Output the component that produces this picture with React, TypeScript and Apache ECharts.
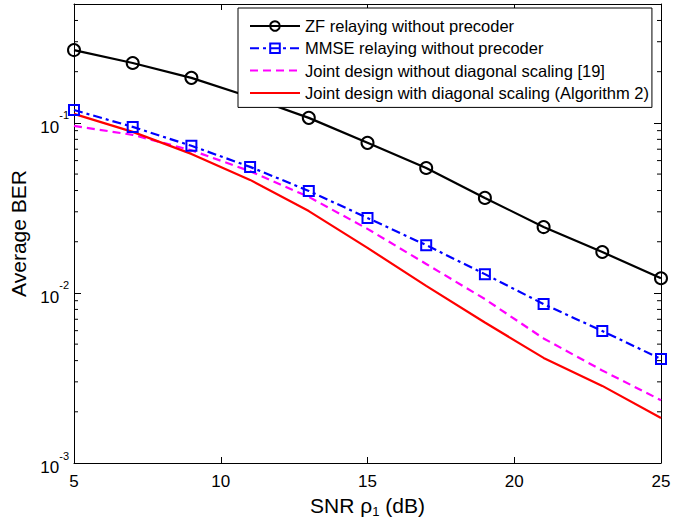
import React, { useEffect, useRef } from "react";
import * as echarts from "echarts";

const snr = [5, 7, 9, 11, 13, 15, 17, 19, 21, 23, 25];
const zfBer = [0.268, 0.225, 0.184, 0.142, 0.107, 0.0763, 0.0543, 0.0362, 0.0244, 0.0174, 0.0122];
const mmseBer = [0.119, 0.0947, 0.0733, 0.0551, 0.0398, 0.0276, 0.0191, 0.0129, 0.0086, 0.00597, 0.00409];
const jointNoScaleBer = [0.096, 0.085, 0.069, 0.052, 0.0367, 0.0238, 0.0148, 0.0092, 0.0054, 0.0035, 0.00234];
const jointScaleBer = [0.113, 0.0885, 0.0657, 0.0462, 0.0303, 0.0184, 0.011, 0.0067, 0.00415, 0.00284, 0.00184];
const seriesNames = [
  "ZF relaying without precoder",
  "MMSE relaying without precoder",
  "Joint design without diagonal scaling [19]",
  "Joint design with diagonal scaling (Algorithm 2)",
];
const xTicks = [5, 10, 15, 20, 25];
const yMin = 0.001;
const yMax = 0.5;
const minorTickValues = [
  0.002, 0.003, 0.004, 0.005, 0.006, 0.007, 0.008, 0.009,
  0.02, 0.03, 0.04, 0.05, 0.06, 0.07, 0.08, 0.09,
  0.2, 0.3, 0.4,
];

const FONT = "'Liberation Sans', Arial, sans-serif";

export default function App() {
  const ref = useRef<HTMLDivElement>(null);
  useEffect(() => {
    if (!ref.current) return;
    const chart = echarts.init(ref.current, undefined, { renderer: "svg" });
    const pair = (ys: number[]) => snr.map((x, i) => [x, ys[i]]);
    const yLabelFmt = (v: number) => {
      const e = Math.log10(v);
      if (Math.abs(e - Math.round(e)) > 1e-6) return "";
      return `{b|10}{s|${Math.round(e)}}`;
    };
    const option: any = {
      animation: false,
      backgroundColor: "#fff",
      textStyle: { fontFamily: FONT, color: "#000" },
      grid: { left: 74, right: 25, top: 4, bottom: 55, containLabel: false, outerBoundsMode: "none" },
      legend: {
        orient: "vertical",
        left: 238,
        top: 8,
        data: seriesNames,
        backgroundColor: "#fff",
        borderColor: "#000",
        borderWidth: 1,
        borderRadius: 0,
        padding: [9.5, 3, 6, 11],
        itemWidth: 50,
        itemHeight: 12,
        itemGap: 5.3,
        textStyle: { fontFamily: FONT, fontSize: 16.5, color: "#000", lineHeight: 17 },
      },
      xAxis: [
        {
          type: "value",
          min: 5,
          max: 25,
          interval: 5,
          name: "{a|SNR ρ}{sub|1}{a| (dB)}",
          nameLocation: "middle",
          nameGap: 28,
          nameTextStyle: {
            rich: {
              a: { fontFamily: FONT, fontSize: 21, color: "#000", lineHeight: 24 },
              sub: { fontFamily: FONT, fontSize: 13, color: "#000", verticalAlign: "bottom", lineHeight: 24, padding: [10, 0, 0, 0] },
            },
          },
          axisLine: { show: true, lineStyle: { color: "#000", width: 1 } },
          axisTick: { show: true, inside: true, length: 6, lineStyle: { color: "#000" } },
          axisLabel: { fontFamily: FONT, fontSize: 17, color: "#000", margin: 10 },
          splitLine: { show: false },
        },
        {
          type: "value",
          position: "top",
          min: 5,
          max: 25,
          interval: 5,
          axisLine: { show: true, lineStyle: { color: "#000", width: 1 } },
          axisTick: { show: true, inside: true, length: 6, lineStyle: { color: "#000" } },
          axisLabel: { show: false },
          splitLine: { show: false },
        },
      ],
      yAxis: [
        {
          type: "log",
          logBase: 10,
          min: yMin,
          max: yMax,
          name: "Average BER",
          nameLocation: "middle",
          nameGap: 45,
          nameTextStyle: { fontFamily: FONT, fontSize: 21, color: "#000" },
          axisLine: { show: true, lineStyle: { color: "#000", width: 1 } },
          axisTick: { show: true, inside: true, length: 7, lineStyle: { color: "#000" } },
          axisLabel: {
            margin: 5,
            formatter: yLabelFmt,
            rich: {
              b: { fontFamily: FONT, fontSize: 17, color: "#000", lineHeight: 26, verticalAlign: "bottom" },
              s: { fontFamily: FONT, fontSize: 11, color: "#000", lineHeight: 26, verticalAlign: "top" },
            },
          },
          splitLine: { show: false },
        },
        {
          type: "log",
          logBase: 10,
          min: yMin,
          max: yMax,
          position: "right",
          axisLine: { show: true, lineStyle: { color: "#000", width: 1 } },
          axisTick: { show: true, inside: true, length: 7, lineStyle: { color: "#000" } },
          axisLabel: { show: false },
          splitLine: { show: false },
        },
      ],
      series: [
        {
          name: seriesNames[0],
          type: "line",
          data: pair(zfBer),
          symbol: "circle",
          symbolSize: 12,
          itemStyle: { color: "rgba(255,255,255,0)", borderColor: "#000", borderWidth: 2 },
          lineStyle: { color: "#000", width: 2.2 },
          z: 3,
        },
        {
          name: seriesNames[1],
          type: "line",
          data: pair(mmseBer),
          symbol: "rect",
          symbolSize: 10,
          itemStyle: { color: "rgba(255,255,255,0)", borderColor: "#0000ff", borderWidth: 2 },
          lineStyle: { color: "#0000ff", width: 2.2, type: [9, 4, 3, 4] },
          z: 3,
        },
        {
          name: seriesNames[2],
          type: "line",
          data: pair(jointNoScaleBer),
          symbol: "none",
          itemStyle: { color: "rgba(255,255,255,0)", borderWidth: 0 },
          lineStyle: { color: "#ff00ff", width: 2.2, type: [8, 5] },
          z: 3,
        },
        {
          name: seriesNames[3],
          type: "line",
          data: pair(jointScaleBer),
          symbol: "none",
          itemStyle: { color: "rgba(255,255,255,0)", borderWidth: 0 },
          lineStyle: { color: "#ff0000", width: 2.2 },
          z: 3,
        },
        {
          type: "custom",
          silent: true,
          clip: false,
          z: 1,
          data: minorTickValues.map((v) => [xTicks[0], v]),
          encode: { x: 0, y: 1 },
          renderItem: (_params: any, api: any) => {
            const v = api.value(1);
            const pl = api.coord([xTicks[0], v]);
            const pr = api.coord([xTicks[xTicks.length - 1], v]);
            return {
              type: "group",
              children: [
                { type: "line", shape: { x1: pl[0], y1: pl[1], x2: pl[0] + 4, y2: pl[1] }, style: { stroke: "#000", lineWidth: 1 } },
                { type: "line", shape: { x1: pr[0], y1: pr[1], x2: pr[0] - 4, y2: pr[1] }, style: { stroke: "#000", lineWidth: 1 } },
              ],
            };
          },
        },
      ],
    };
    chart.setOption(option);
    return () => chart.dispose();
  }, []);
  return (
    <div
      ref={ref}
      style={{ position: "fixed", left: 0, top: 0, width: 686, height: 518, background: "#fff" }}
    />
  );
}
